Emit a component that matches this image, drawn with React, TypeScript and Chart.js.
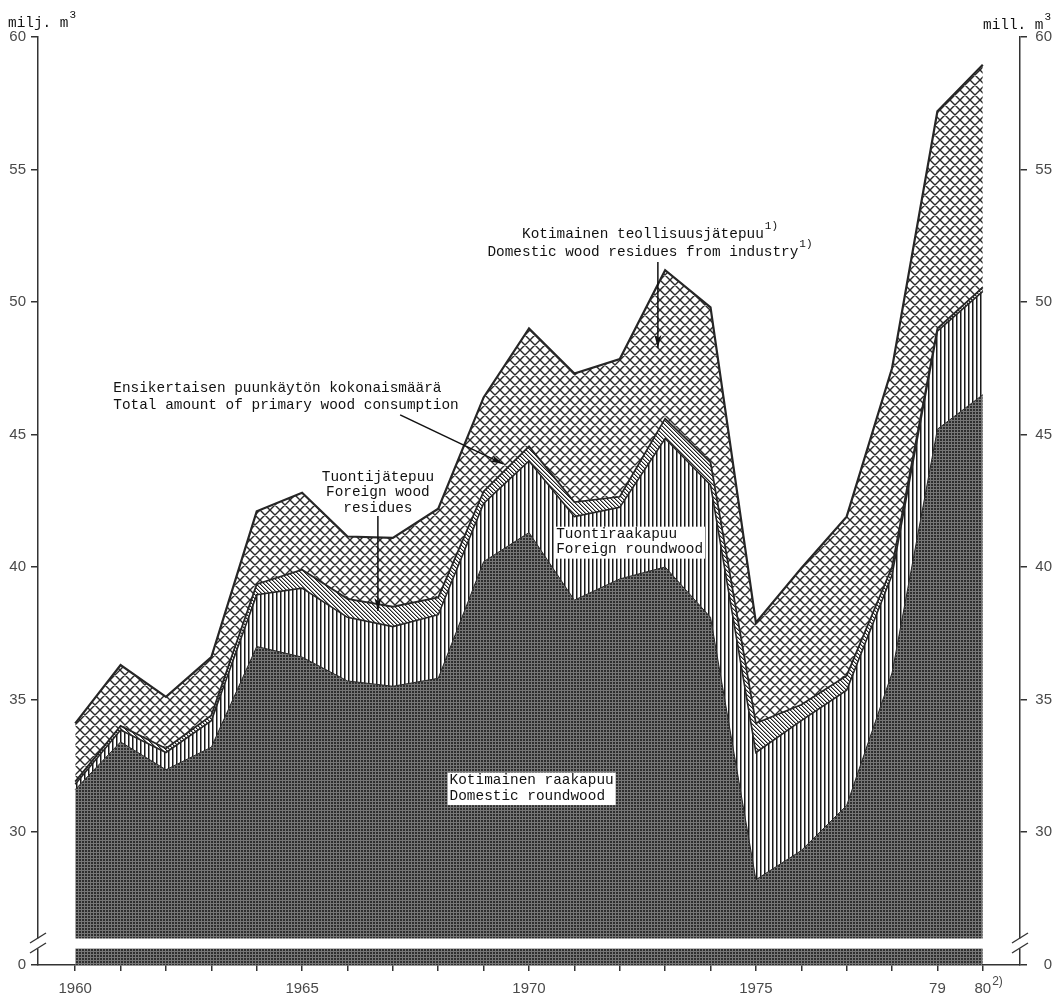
import React, { useEffect, useRef } from 'react';
import { Chart, LinearScale, registerables } from 'chart.js';

// ---------------- data (million m³) ----------------
const YEARS = [1960, 1961, 1962, 1963, 1964, 1965, 1966, 1967, 1968, 1969, 1970, 1971, 1972, 1973, 1974, 1975, 1976, 1977, 1978, 1979, 1980];
const DOMESTIC_ROUNDWOOD = [31.6, 33.4, 32.35, 33.2, 37.0, 36.6, 35.7, 35.5, 35.8, 40.2, 41.3, 38.75, 39.55, 40.0, 38.1, 28.2, 29.3, 31.0, 36.0, 45.2, 46.5];
const FOREIGN_ROUNDWOOD = [0.2, 0.45, 0.65, 1.0, 1.95, 2.6, 2.4, 2.25, 2.4, 2.2, 2.7, 3.15, 2.7, 4.85, 5.0, 4.8, 4.9, 4.35, 3.7, 3.7, 3.9];
const FOREIGN_RESIDUES = [0.1, 0.15, 0.15, 0.2, 0.4, 0.7, 0.7, 0.75, 0.65, 0.45, 0.55, 0.55, 0.4, 0.75, 0.85, 1.1, 0.6, 0.55, 0.3, 0.1, 0.15];
const DOMESTIC_RESIDUES = [2.2, 2.3, 1.95, 2.2, 2.75, 2.9, 2.35, 2.6, 3.35, 3.55, 4.45, 4.85, 5.2, 5.6, 5.85, 3.8, 5.15, 6.0, 7.5, 8.2, 8.4];
const Y_TICKS = [0, 30, 35, 40, 45, 50, 55, 60];
const X_TICK_LABELS: Record<number, string> = { 1960: '1960', 1965: '1965', 1970: '1970', 1975: '1975', 1979: '79', 1980: '80' };
const LAST_YEAR_NOTE = '2)';
const BREAK_VALUE = 26;

const MONO = "'Liberation Mono', 'DejaVu Sans Mono', monospace";
const SANS = "'Liberation Sans', 'DejaVu Sans', sans-serif";
const INK = '#111';

// Broken y scale: 0 sits in a thin band below an axis break, 26..60 is linear above it.
class BrokenScale extends LinearScale {
  static id = 'broken';
  getPixelForValue(value: number) {
    const top = this.top;
    const bottom = this.bottom;
    const gapTop = bottom - 27;
    const max = this.max;
    if (value >= BREAK_VALUE) {
      return top + ((max - value) / (max - BREAK_VALUE)) * (gapTop - top);
    }
    const v = Math.max(0, value);
    return bottom - (v / BREAK_VALUE) * (bottom - gapTop);
  }
  getValueForPixel(pixel: number) {
    const top = this.top;
    const bottom = this.bottom;
    const gapTop = bottom - 27;
    const max = this.max;
    if (pixel <= gapTop) return max - ((pixel - top) / (gapTop - top)) * (max - BREAK_VALUE);
    return ((bottom - pixel) / (bottom - gapTop)) * BREAK_VALUE;
  }
}

Chart.register(...registerables, BrokenScale as any);

function tile(ctx: CanvasRenderingContext2D, w: number, h: number, draw: (g: CanvasRenderingContext2D) => void) {
  const c = document.createElement('canvas');
  c.width = w;
  c.height = h;
  const g = c.getContext('2d')!;
  draw(g);
  return ctx.createPattern(c, 'repeat')!;
}

function arrow(ctx: CanvasRenderingContext2D, x1: number, y1: number, x2: number, y2: number) {
  ctx.beginPath();
  ctx.moveTo(x1, y1);
  ctx.lineTo(x2, y2);
  ctx.stroke();
  const a = Math.atan2(y2 - y1, x2 - x1);
  const L = 13;
  const W = 3.5;
  const c = Math.cos(a);
  const s = Math.sin(a);
  ctx.beginPath();
  ctx.moveTo(x2, y2);
  ctx.lineTo(x2 - L * c + W * s, y2 - L * s - W * c);
  ctx.lineTo(x2 - L * c * 0.75, y2 - L * s * 0.75);
  ctx.lineTo(x2 - L * c - W * s, y2 - L * s + W * c);
  ctx.closePath();
  ctx.fill();
}

const decor = {
  id: 'decor',
  afterDatasetsDraw(chart: any) {
    const ctx: CanvasRenderingContext2D = chart.ctx;
    const { left, right, bottom } = chart.chartArea;
    const y = chart.scales.y;
    const gapTop = y.getPixelForValue(BREAK_VALUE);
    const gapBottom = bottom - 16;
    ctx.save();
    ctx.fillStyle = '#fff';
    ctx.fillRect(left - 12, gapTop + 0.5, right - left + 24, gapBottom - gapTop - 1);
    ctx.strokeStyle = '#333';
    ctx.lineWidth = 1.4;
    for (const ax of [left, right]) {
      for (const yy of [gapTop, gapBottom - 1]) {
        ctx.beginPath();
        ctx.moveTo(ax - 8, yy + 5);
        ctx.lineTo(ax + 8, yy - 5);
        ctx.stroke();
      }
    }
    ctx.restore();
  },
  afterDraw(chart: any) {
    const ctx: CanvasRenderingContext2D = chart.ctx;
    const xs = chart.scales.x;
    const ys = chart.scales.y;
    const { right, top, bottom } = chart.chartArea;
    const X = (v: number) => xs.getPixelForValue(v);
    const Y = (v: number) => ys.getPixelForValue(v);
    ctx.save();
    ctx.fillStyle = INK;
    ctx.strokeStyle = INK;
    ctx.textBaseline = 'middle';
    const F = `14.4px ${MONO}`;
    const FS = `11px ${MONO}`;

    // superscript note on the last year label
    ctx.font = `15px ${SANS}`;
    const w80 = ctx.measureText(X_TICK_LABELS[1980]).width;
    ctx.font = `12px ${SANS}`;
    ctx.fillStyle = '#4a4a4a';
    ctx.textAlign = 'left';
    ctx.fillText(LAST_YEAR_NOTE, X(1980) + w80 / 2 + 1, bottom + 17);
    ctx.fillStyle = INK;

    // unit labels
    ctx.font = F;
    ctx.textAlign = 'left';
    ctx.fillText('milj. m', 8, top - 14);
    let w = ctx.measureText('milj. m').width;
    ctx.font = FS;
    ctx.fillText('3', 8 + w + 1, top - 22);
    ctx.font = F;
    w = ctx.measureText('mill. m').width;
    const rx = right - 37;
    ctx.fillText('mill. m', rx, top - 12);
    ctx.font = FS;
    ctx.fillText('3', rx + w + 1, top - 20);

    // text helper
    const lines = (arr: string[], x: number, y0: number, gap: number, align: CanvasTextAlign, sup?: boolean) => {
      ctx.font = F;
      ctx.textAlign = align;
      arr.forEach((t, i) => {
        const yy = y0 + i * gap;
        ctx.fillText(t, x, yy);
        if (sup) {
          const tw = ctx.measureText(t).width;
          const end = align === 'center' ? x + tw / 2 : x + tw;
          ctx.font = FS;
          ctx.textAlign = 'left';
          ctx.fillText('1)', end + 1, yy - 8);
          ctx.font = F;
          ctx.textAlign = align;
        }
      });
    };
    const boxed = (arr: string[], x: number, y0: number, gap: number) => {
      ctx.font = F;
      const tw = Math.max(...arr.map((t) => ctx.measureText(t).width));
      ctx.fillStyle = '#fff';
      ctx.fillRect(x - 2, y0 - 8, tw + 4, gap * (arr.length - 1) + 17);
      ctx.fillStyle = INK;
      lines(arr, x, y0, gap, 'left');
    };

    // Domestic wood residues from industry
    lines(['Kotimainen teollisuusjätepuu', 'Domestic wood residues from industry'], X(1972.51), Y(52.57), 18, 'center', true);
    ctx.lineWidth = 1.5;
    arrow(ctx, X(1972.84), Y(51.51), X(1972.84), Y(48.26));

    // Total primary wood consumption
    lines(['Ensikertaisen puunkäytön kokonaismäärä', 'Total amount of primary wood consumption'], X(1960.84), Y(46.75), 17, 'left');
    arrow(ctx, X(1967.16), Y(45.74), X(1969.43), Y(43.89));

    // Foreign wood residues
    lines(['Tuontijätepuu', 'Foreign wood', 'residues'], X(1966.67), Y(43.4), 15.5, 'center');
    arrow(ctx, X(1966.67), Y(41.92), X(1966.67), Y(38.34));

    // Foreign roundwood (boxed)
    boxed(['Tuontiraakapuu', 'Foreign roundwood'], X(1970.6), Y(41.22), 15);

    // Domestic roundwood (boxed)
    boxed(['Kotimainen raakapuu', 'Domestic roundwood'], X(1968.25), Y(31.94), 15.5);

    ctx.restore();
  },
};

export default function App() {
  const ref = useRef<HTMLCanvasElement>(null);
  useEffect(() => {
    document.body.style.margin = '0';
    const canvas = ref.current!;
    const ctx = canvas.getContext('2d')!;

    const darkPat = tile(ctx, 3, 3, (g) => {
      g.fillStyle = '#2e2e2e';
      g.fillRect(0, 0, 3, 3);
      g.fillStyle = '#767676';
      g.fillRect(0, 0, 3, 1);
      g.fillRect(0, 0, 1, 3);
    });
    const stripePat = tile(ctx, 4, 4, (g) => {
      g.fillStyle = '#fff';
      g.fillRect(0, 0, 4, 4);
      g.fillStyle = '#1a1a1a';
      g.fillRect(0, 0, 1, 4);
      g.fillStyle = '#8a8a8a';
      g.fillRect(1, 0, 1, 4);
    });
    const diagPat = tile(ctx, 4, 4, (g) => {
      g.fillStyle = '#fff';
      g.fillRect(0, 0, 4, 4);
      for (let i = 0; i < 4; i++) {
        g.fillStyle = '#222';
        g.fillRect(i, i, 1, 1);
        g.fillStyle = '#999';
        g.fillRect((i + 1) % 4, i, 1, 1);
      }
    });
    const crossPat = tile(ctx, 10, 10, (g) => {
      g.fillStyle = '#fff';
      g.fillRect(0, 0, 10, 10);
      g.strokeStyle = '#2a2a2a';
      g.lineWidth = 1.4;
      g.beginPath();
      for (let k = -10; k <= 10; k += 10) {
        g.moveTo(k, 0);
        g.lineTo(k + 10, 10);
        g.moveTo(k + 10, 0);
        g.lineTo(k, 10);
      }
      g.stroke();
    });

    const pts = (arr: number[]) => YEARS.map((x, i) => ({ x, y: arr[i] }));
    const common = { pointRadius: 0, tension: 0, borderColor: '#262626', yAxisID: 'y' };

    const yAxis = (position: 'left' | 'right') => ({
      type: 'broken',
      position,
      min: 0,
      max: 60,
      stacked: position === 'left',
      afterBuildTicks: (s: any) => {
        s.ticks = Y_TICKS.map((v) => ({ value: v }));
      },
      afterFit: (s: any) => {
        s.width = position === 'left' ? 38 : 32;
      },
      border: { display: true, color: '#333', width: 1.5 },
      grid: { drawOnChartArea: false, drawTicks: true, tickLength: 7, color: '#333', lineWidth: 1.5 },
      ticks: {
        font: { family: SANS, size: 15 },
        color: '#4a4a4a',
        padding: 5,
        crossAlign: position === 'left' ? 'near' : 'far',
        callback: (v: any) => String(v),
      },
    });

    const chart = new Chart(canvas, {
      type: 'line',
      data: {
        datasets: [
          { ...common, label: 'Kotimainen raakapuu / Domestic roundwood', data: pts(DOMESTIC_ROUNDWOOD), fill: 'origin', backgroundColor: darkPat, borderWidth: 1 },
          { ...common, label: 'Tuontiraakapuu / Foreign roundwood', data: pts(FOREIGN_ROUNDWOOD), fill: '-1', backgroundColor: stripePat, borderWidth: 1.6 },
          { ...common, label: 'Tuontijätepuu / Foreign wood residues', data: pts(FOREIGN_RESIDUES), fill: '-1', backgroundColor: diagPat, borderWidth: 1.8 },
          { ...common, label: 'Kotimainen teollisuusjätepuu / Domestic wood residues from industry', data: pts(DOMESTIC_RESIDUES), fill: '-1', backgroundColor: crossPat, borderWidth: 2.2 },
        ],
      } as any,
      options: {
        animation: false,
        responsive: false,
        events: [],
        layout: { padding: { top: 37, right: 6, bottom: 0, left: 0 } },
        plugins: { legend: { display: false }, tooltip: { enabled: false } },
        scales: {
          x: {
            type: 'linear',
            min: 1959.18,
            max: 1980.82,
            afterBuildTicks: (s: any) => {
              s.ticks = YEARS.map((v) => ({ value: v }));
            },
            afterFit: (s: any) => {
              s.height = 35;
            },
            border: { display: true, color: '#333', width: 1.5 },
            grid: { drawOnChartArea: false, drawTicks: true, tickLength: 6, color: '#333', lineWidth: 1.5 },
            ticks: {
              autoSkip: false,
              maxRotation: 0,
              padding: 9,
              font: { family: SANS, size: 15 },
              color: '#4a4a4a',
              callback: (v: any) => X_TICK_LABELS[Number(v)] ?? '',
            },
          },
          y: yAxis('left'),
          y2: yAxis('right'),
        } as any,
      },
      plugins: [decor],
    });
    return () => chart.destroy();
  }, []);
  return <canvas ref={ref} width={1058} height={1000} style={{ display: 'block' }} />;
}
